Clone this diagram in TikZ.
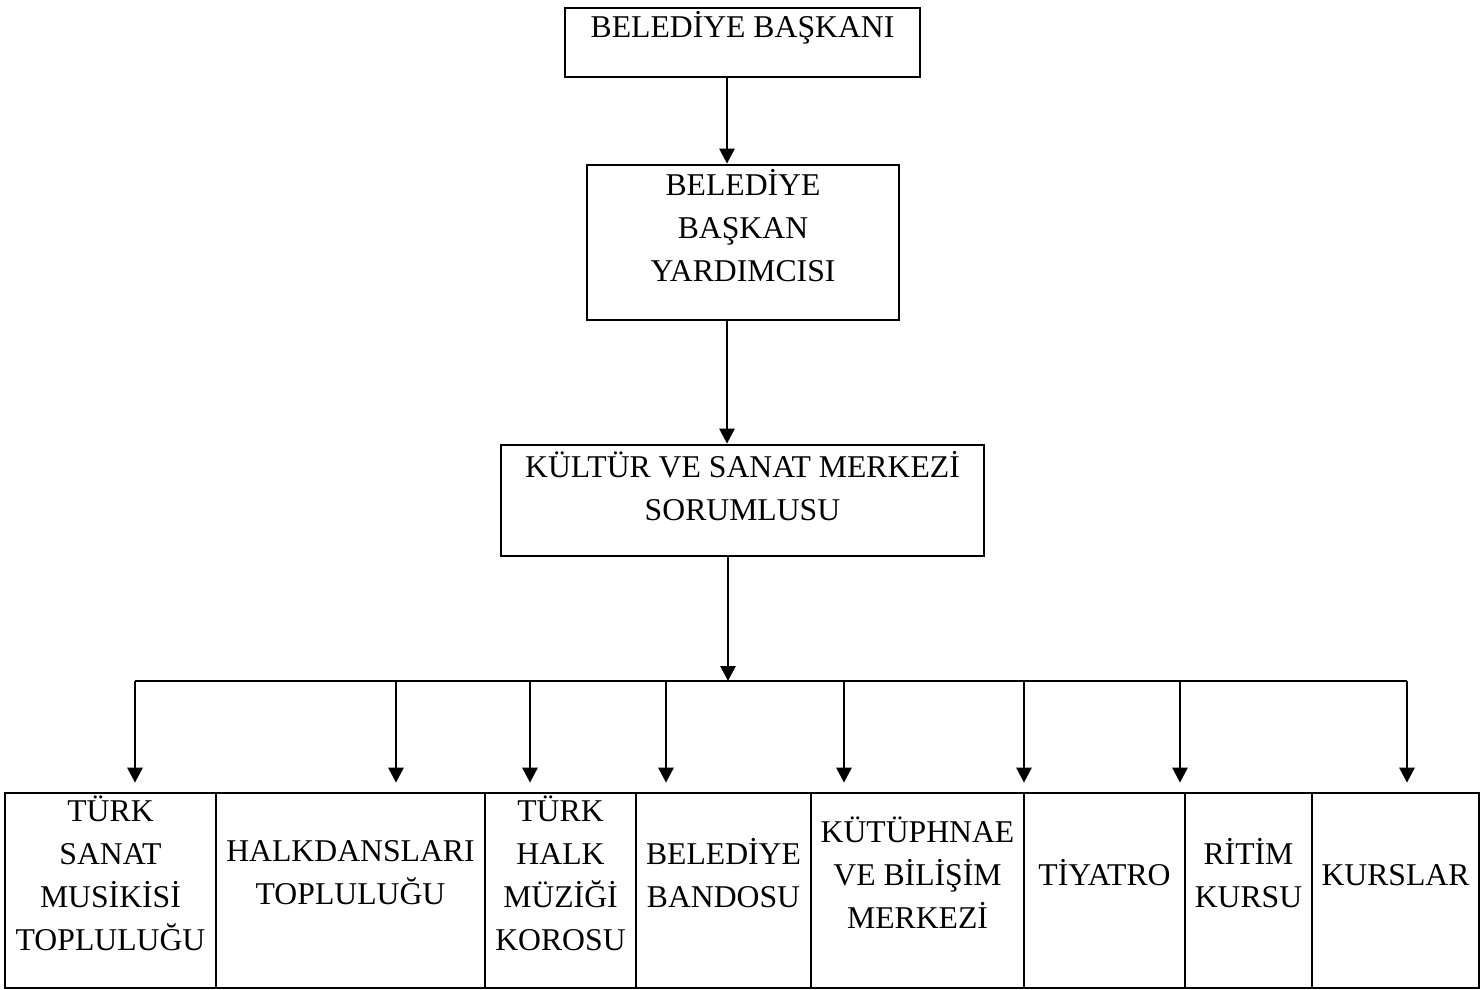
\documentclass[tikz,border=0pt]{standalone}
\usepackage{fontspec}
\setmainfont{Liberation Serif}
\usetikzlibrary{arrows.meta}

\begin{document}
\begin{tikzpicture}[x=0.5pt, y=-0.5pt, >={Triangle[width=7.5pt,length=7.5pt]},
  kutu/.style={draw, line width=1.35pt, inner sep=0pt},
  yazi/.style={align=center, inner sep=0pt, font=\fontsize{15.85pt}{21.5pt}\selectfont},
  ok/.style={->, line width=1.4pt}]
  \useasboundingbox (0,0) rectangle (1480,990);
  % Belediye baskani
  \node[kutu, minimum width=177.5pt, minimum height=34.5pt] (baskan) at (742.5,42.5) {};
  \node[yazi] (baskanT) at (742.5,28) {BELEDİYE BAŞKANI};
  % Yardimci
  \node[kutu, minimum width=156pt, minimum height=77.5pt] (yard) at (743,242.5) {};
  \node[yazi] (yardT) at (743,226) {BELEDİYE\\BAŞKAN\\YARDIMCISI};
  % Kultur ve sanat merkezi
  \node[kutu, minimum width=241.5pt, minimum height=55.5pt] (kult) at (742.5,500.5) {};
  \node[yazi] (kultT) at (742.5,486) {KÜLTÜR VE SANAT MERKEZİ\\SORUMLUSU};
  % Baglantilar
  \coordinate (c1) at (727,0);
  \coordinate (c2) at (728,0);
  \coordinate (bl) at (135,681);
  \coordinate (br) at (1407,681);
  \draw[ok] (c1 |- baskan.south) -- (c1 |- yard.north);
  \draw[ok] (c1 |- yard.south) -- (c1 |- kult.north);
  \draw[ok] (c2 |- kult.south) -- (c2 |- bl);
  \draw[line width=1.4pt] (bl) -- (br);
  % Birimler
  \node[kutu, minimum width=105.5pt, minimum height=97.5pt] (tsm) at (110.5,890.5) {};
  \node[kutu, minimum width=134.5pt, minimum height=97.5pt] (hdt) at (350.5,890.5) {};
  \node[kutu, minimum width=75.5pt, minimum height=97.5pt] (thm) at (560.5,890.5) {};
  \node[kutu, minimum width=87.5pt, minimum height=97.5pt] (bb) at (723.5,890.5) {};
  \node[kutu, minimum width=106.5pt, minimum height=97.5pt] (kbm) at (917.5,890.5) {};
  \node[kutu, minimum width=80.5pt, minimum height=97.5pt] (tiy) at (1104.5,890.5) {};
  \node[kutu, minimum width=63.5pt, minimum height=97.5pt] (rit) at (1248.5,890.5) {};
  \node[kutu, minimum width=83.5pt, minimum height=97.5pt] (kur) at (1395.5,890.5) {};
  \node[yazi] (tsmT) at (110.5,873) {TÜRK\\SANAT\\MUSİKİSİ\\TOPLULUĞU};
  \node[yazi] (hdtT) at (350.5,873) {HALKDANSLARI\\TOPLULUĞU};
  \node[yazi] (thmT) at (560.5,873) {TÜRK\\HALK\\MÜZİĞİ\\KOROSU};
  \node[yazi] (bbT) at (723.5,873) {BELEDİYE\\BANDOSU};
  \node[yazi] (kbmT) at (917.5,873) {KÜTÜPHNAE\\VE BİLİŞİM\\MERKEZİ};
  \node[yazi] (tiyT) at (1104.5,873) {TİYATRO};
  \node[yazi] (ritT) at (1248.5,873) {RİTİM\\KURSU};
  \node[yazi] (kurT) at (1395.5,875) {KURSLAR};
  % Oklar
  \foreach \x/\k in {135/tsm, 396/hdt, 530/thm, 666/bb, 844/kbm, 1024/tiy, 1180/tiy, 1407/kur}
    \draw[ok, shorten >=4.5pt] (\x,0 |- bl) -- (\x,0 |- \k.north);
\end{tikzpicture}
\end{document}
